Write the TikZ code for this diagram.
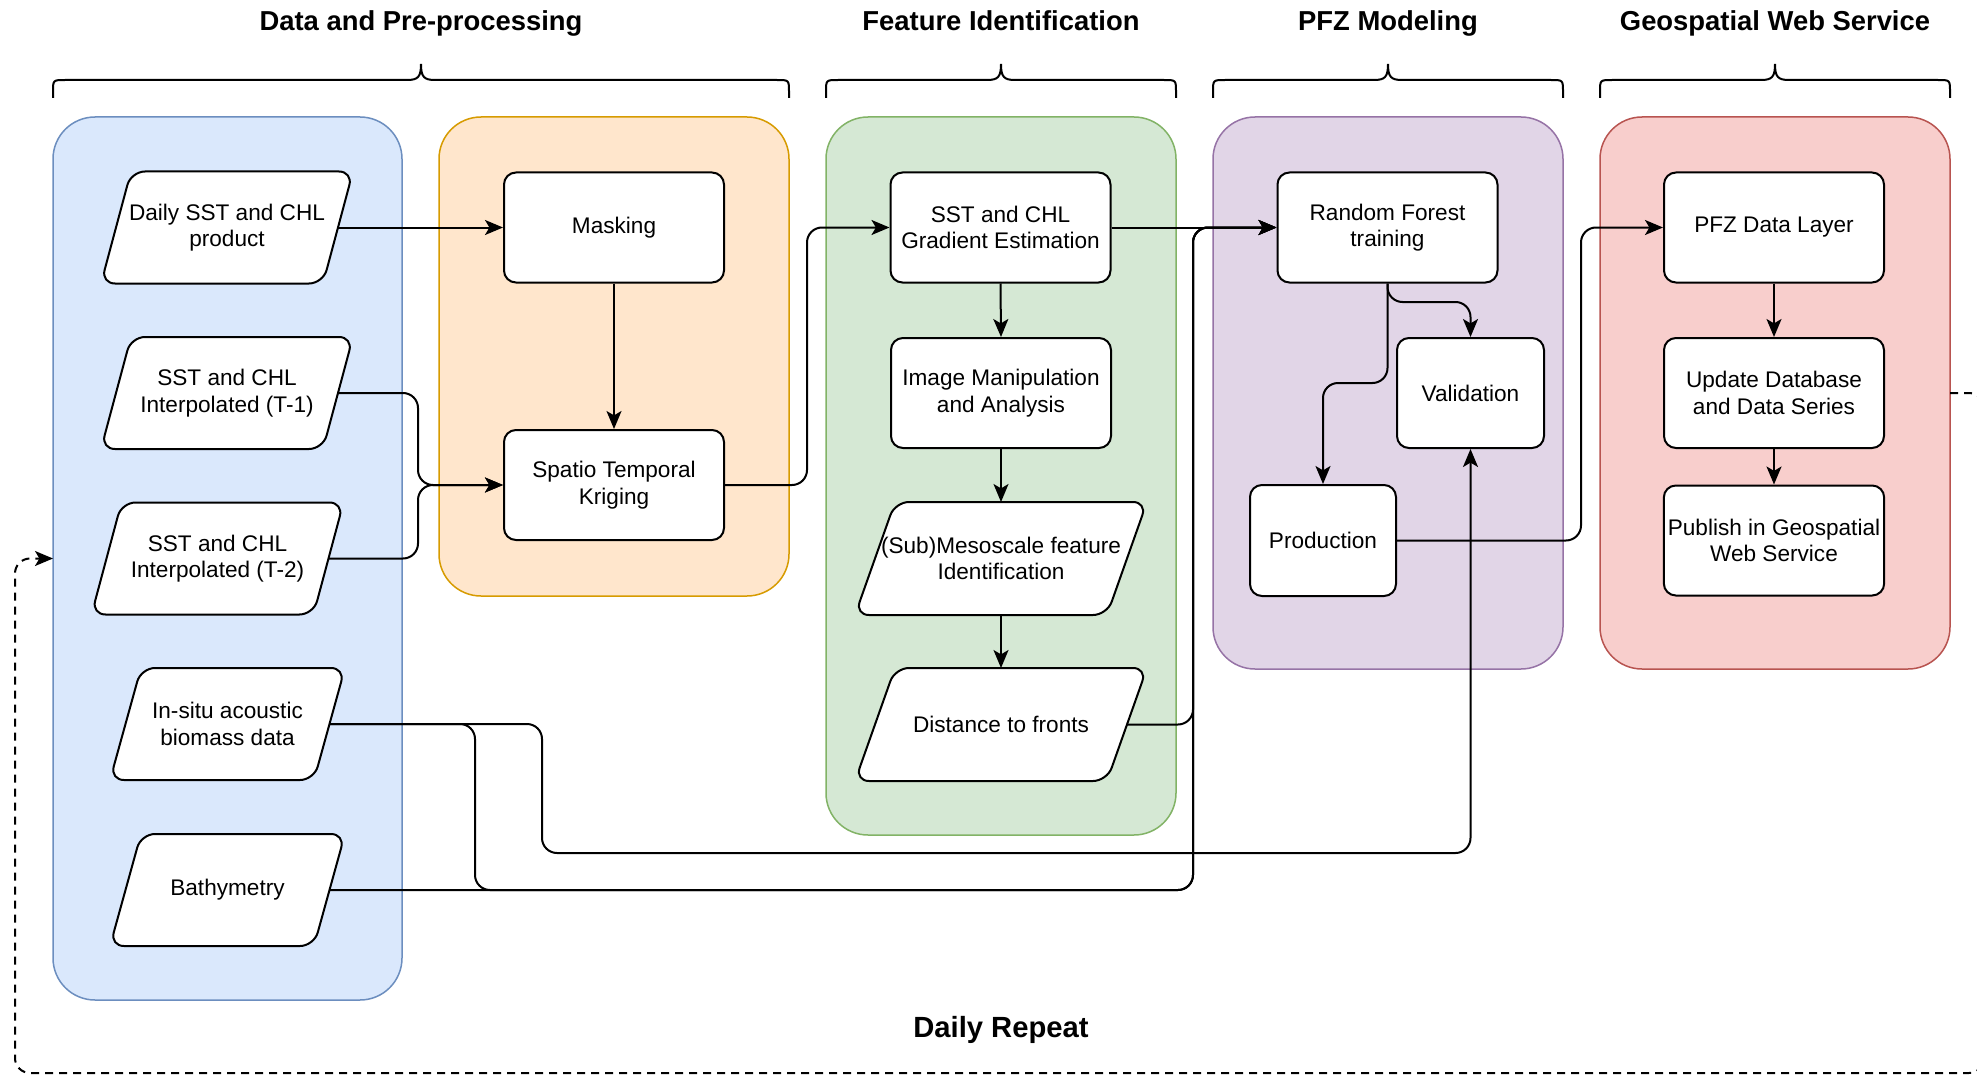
\documentclass[tikz,border=0pt]{standalone}
\usepackage{fontspec}
\setmainfont{Liberation Sans}
\usetikzlibrary{arrows.meta}
\definecolor{blueF}{HTML}{DAE8FC}\definecolor{blueD}{HTML}{6C8EBF}
\definecolor{orangeF}{HTML}{FFE6CC}\definecolor{orangeD}{HTML}{D79B00}
\definecolor{greenF}{HTML}{D5E8D4}\definecolor{greenD}{HTML}{82B366}
\definecolor{purpleF}{HTML}{E1D5E7}\definecolor{purpleD}{HTML}{9673A6}
\definecolor{redF}{HTML}{F8CECC}\definecolor{redD}{HTML}{B85450}
\pgfdeclarelayer{bglayer}\pgfdeclarelayer{shapelayer}
\pgfsetlayers{bglayer,shapelayer,main}
\newcommand\mybrace[3]{\draw[bracestyle] (#1,98) -- (#1,92) .. controls (#1,80) .. ({#1+12},80) -- ({#2-14},80) .. controls ({#2-3},80) and (#2,77) .. (#2,64) .. controls (#2,77) and ({#2+3},80) .. ({#2+14},80) -- ({#3-12},80) .. controls (#3,80) .. (#3,92) -- (#3,98);}
% parallelogram drawn behind a named text node; #2 = half of the slant
\newcommand\drawpgram[2]{\begin{pgfonlayer}{shapelayer}\draw[pgline] ([xshift=#2]#1.north west) -- ([xshift=#2]#1.north east) -- ([xshift=-#2]#1.south east) -- ([xshift=-#2]#1.south west) -- cycle;\end{pgfonlayer}}
\tikzset{
  cont/.style={rounded corners=21pt, line width=0.75pt, inner sep=0pt, outer sep=0pt, minimum width=175pt},
  proc/.style={draw, fill=white, rounded corners=6pt, line width=1pt, align=center, inner sep=2pt,
    minimum width=110pt, minimum height=55pt, font=\fontsize{11.3}{13.2}\selectfont},
  datab/.style={align=center, inner sep=1pt, outer sep=0.5pt, minimum width=110pt,
    minimum height=55pt, font=\fontsize{11.3}{13.2}\selectfont},
  pgline/.style={draw, fill=white, rounded corners=7pt, line width=1pt},
  conn/.style={line width=1pt, rounded corners=7.5pt, -{Stealth[length=9pt,width=7.5pt,inset=2.2pt]}},
  loopback/.style={conn, dash pattern=on 4pt off 3pt},
  bracestyle/.style={line width=1pt},
  title/.style={font=\fontsize{13.7}{17}\selectfont\bfseries, anchor=base}
}
\begin{document}
\begin{tikzpicture}[x=0.5pt,y=-0.5pt]
\useasboundingbox (0,0) rectangle (1977,1081);
\clip (0,0) rectangle (1977,1081);
\begin{pgfonlayer}{bglayer}
\fill[white] (0,0) rectangle (1977,1081);
\end{pgfonlayer}
% titles
\node[title] (t1title) at (421,31) {Data and Pre-processing};
\node[title] (t2title) at (1001,31) {Feature Identification};
\node[title] (t3title) at (1388,31) {PFZ Modeling};
\node[title] (t4title) at (1775,31) {Geospatial Web Service};
\node[title, font=\fontsize{14.6}{17}\selectfont\bfseries] (repeat) at (1001,1037) {Daily Repeat};
% braces
\mybrace{53}{421}{789}
\mybrace{826}{1001}{1176}
\mybrace{1213}{1388}{1563}
\mybrace{1600}{1775}{1950}
% containers
\begin{pgfonlayer}{bglayer}
\node[cont, fill=blueF, draw=blueD, minimum width=174.5pt, minimum height=441.5pt] (cBlue) at (227.5,558.5) {};
\node[cont, fill=orangeF, draw=orangeD, minimum height=239.5pt] (cOrange) at (614,356.5) {};
\node[cont, fill=greenF, draw=greenD, minimum height=359pt] (cGreen) at (1001,476) {};
\node[cont, fill=purpleF, draw=purpleD, minimum height=276pt] (cPurple) at (1388,393) {};
\node[cont, fill=redF, draw=redD, minimum height=276pt] (cRed) at (1775,393) {};
\end{pgfonlayer}
% data nodes (parallelograms)
\node[datab] (daily) at (227,227.5) {Daily SST and CHL\\product};
\node[datab] (t1) at (227,393) {SST and CHL\\Interpolated (T-1)};
\node[datab] (t2) at (217.5,558.5) {SST and CHL\\Interpolated (T-2)};
\node[datab, minimum width=101pt] (insitu) at (227.5,724) {In-situ acoustic\\biomass data};
\node[datab, minimum width=101pt] (bathy) at (227.5,890) {Bathymetry};
\drawpgram{daily}{7.5pt}
\drawpgram{t1}{7.5pt}
\drawpgram{t2}{7.5pt}
\drawpgram{insitu}{7.75pt}
\drawpgram{bathy}{7.75pt}
% pre-processing
\node[proc] (mask) at (614,227.5) {Masking};
\node[proc] (krig) at (614,485) {Spatio Temporal\\Kriging};
% features
\node[proc] (grad) at (1000.5,227.5) {SST and CHL\\Gradient Estimation};
\node[proc] (imgm) at (1001,393) {Image Manipulation\\and Analysis};
\node[datab, minimum width=125pt, minimum height=55.5pt] (meso) at (1001,558.5) {(Sub)Mesoscale feature\\Identification};
\node[datab, minimum width=125pt, minimum height=55.5pt] (dist) at (1001,724.5) {Distance to fronts};
\drawpgram{meso}{10pt}
\drawpgram{dist}{10pt}
% modeling
\node[proc] (rf) at (1387.5,227.5) {Random Forest\\training};
\node[proc, minimum width=73.5pt] (valid) at (1470.5,393) {Validation};
\node[proc, minimum width=73pt, minimum height=55.5pt] (prod) at (1323,540.5) {Production};
% web service
\node[proc] (pfz) at (1774,227.5) {PFZ Data Layer};
\node[proc] (upd) at (1774,393) {Update Database\\and Data Series};
\node[proc] (pub) at (1774,540.5) {Publish in Geospatial\\Web Service};
% helper coordinates
\coordinate (jK) at (418,0);
\coordinate (jG) at (807,0);
\coordinate (jR) at (1193,0);
\coordinate (jI) at (475,0);
\coordinate (jV) at (542,0);
\coordinate (jP) at (1581,0);
\coordinate (jD) at (1984,0);
\coordinate (jL) at (15,0);
\coordinate (hV) at (0,853);
\coordinate (hRV) at (0,302);
\coordinate (hRP) at (0,383);
\coordinate (hD) at (0,1073);
% connectors
\draw[conn] (daily.east) -- (mask.west);
\draw[conn] (mask.south) -- (krig.north);
\draw[conn] (t1.east) -- (t1.east -| jK) -- (jK |- krig.west) -- (krig.west);
\draw[conn] (t2.east) -- (t2.east -| jK) -- (jK |- krig.west) -- (krig.west);
\draw[conn] (krig.east) -- (krig.east -| jG) -- (jG |- grad.west) -- (grad.west);
\draw[conn] (grad.south) -- (imgm.north);
\draw[conn] (imgm.south) -- (meso.north);
\draw[conn] (meso.south) -- (dist.north);
\draw[conn] (grad.east) -- (rf.west);
\draw[conn] (dist.east) -- (dist.east -| jR) -- (jR |- rf.west) -- (rf.west);
\draw[conn] (bathy.east) -- (bathy.east -| jR) -- (jR |- rf.west) -- (rf.west);
\draw[conn] (insitu.east) -- (insitu.east -| jI) -- (jI |- bathy.east) -- (bathy.east -| jR) -- (jR |- rf.west) -- (rf.west);
\draw[conn] (insitu.east) -- (insitu.east -| jV) -- (jV |- hV) -- (valid.south |- hV) -- (valid.south);
\draw[conn] (rf.south) -- (rf.south |- hRV) -- (valid.north |- hRV) -- (valid.north);
\draw[conn] (rf.south) -- (rf.south |- hRP) -- (prod.north |- hRP) -- (prod.north);
\draw[conn] (prod.east) -- (prod.east -| jP) -- (jP |- pfz.west) -- (pfz.west);
\draw[conn] (pfz.south) -- (upd.north);
\draw[conn] (upd.south) -- (pub.north);
\draw[loopback] (upd.east -| cRed.east) -- (upd.east -| jD) -- (jD |- hD) -- (jL |- hD) -- (jL |- cBlue.west) -- (cBlue.west);
\end{tikzpicture}
\end{document}
